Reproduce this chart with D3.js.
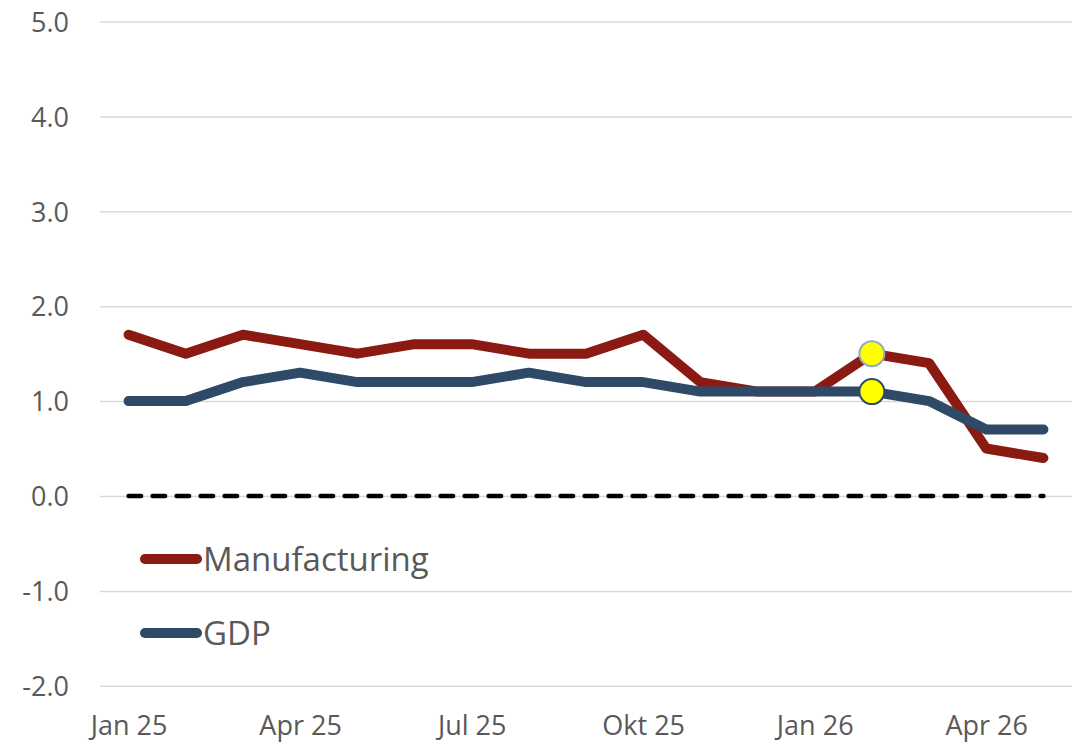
<!DOCTYPE html>
<html>
<head>
<meta charset="utf-8">
<script src="https://cdn.jsdelivr.net/npm/d3@7"></script>
<style>
  html, body { margin: 0; padding: 0; background: #ffffff; }
  svg { display: block; }
  text { font-family: "Open Sans", "Noto Sans", sans-serif; fill: #595959; }
</style>
</head>
<body>
<svg id="chart" width="1083" height="743"></svg>
<script>
// Monthly categories, Jan 25 – May 26
const months = ["Jan 25","Feb 25","Mar 25","Apr 25","May 25","Jun 25","Jul 25","Aug 25","Sep 25",
                "Okt 25","Nov 25","Dec 25","Jan 26","Feb 26","Mar 26","Apr 26","May 26"];
// Only every third month is labelled on the axis
const monthLabels = ["Jan 25","Apr 25","Jul 25","Okt 25","Jan 26","Apr 26"];

const manufacturing = [1.7,1.5,1.7,1.6,1.5,1.6,1.6,1.5,1.5,1.7,1.2,1.1,1.1,1.5,1.4,0.5,0.4];
const gdp           = [1.0,1.0,1.2,1.3,1.2,1.2,1.2,1.3,1.2,1.2,1.1,1.1,1.1,1.1,1.0,0.7,0.7];

const yTicks = [-2,-1,0,1,2,3,4,5];
// Highlighted month on both series
const highlightMonth = "Feb 26";

const seriesNames = ["Manufacturing","GDP"];
const seriesColors = ["#8B1A12","#2E4A66"];
const markerStrokes = ["#8FAAC6","#2E4A66"];

const svg = d3.select("#chart");

const x = d3.scalePoint().domain(months).range([100, 1072]).padding(0.5);
const y = d3.scaleLinear().domain([-2, 5]).range([685.8, 21.5]);

// Horizontal gridlines with one-decimal labels (plain hyphen for negatives)
const yAxis = d3.axisLeft(y).tickValues(yTicks).tickFormat(d => d.toFixed(1))
  .tickSize(-(1072 - 100)).tickPadding(31);
const gy = svg.append("g").attr("transform", "translate(100,0)").call(yAxis);
gy.select(".domain").remove();
gy.selectAll(".tick line").attr("stroke", "#D9D9D9").attr("stroke-width", 1.5);
gy.selectAll(".tick text").attr("font-size", 27).attr("fill", "#595959").attr("dy", "0.36em");

// Category axis labels
const xAxis = d3.axisBottom(x).tickValues(monthLabels).tickSize(0).tickPadding(0);
const gx = svg.append("g").attr("transform", "translate(0,716)").call(xAxis);
gx.select(".domain").remove();
gx.selectAll(".tick text").attr("font-size", 27).attr("fill", "#595959").attr("dy", "0.71em");

// Zero reference line
svg.append("line")
  .attr("x1", x(months[0])).attr("x2", x(months[months.length - 1]))
  .attr("y1", y(0)).attr("y2", y(0))
  .attr("stroke", "#000").attr("stroke-width", 4.5)
  .attr("stroke-linecap", "round")
  .attr("stroke-dasharray", "12.5,11.5");

const line = d3.line().x((d, i) => x(months[i])).y(d => y(d));

const data = [manufacturing, gdp];
data.forEach((vals, k) => {
  svg.append("path")
    .attr("d", line(vals))
    .attr("fill", "none")
    .attr("stroke", seriesColors[k])
    .attr("stroke-width", 10)
    .attr("stroke-linejoin", "round")
    .attr("stroke-linecap", "round");
});

// Highlight markers
const hi = months.indexOf(highlightMonth);
data.forEach((vals, k) => {
  svg.append("circle")
    .attr("cx", x(highlightMonth)).attr("cy", y(vals[hi]))
    .attr("r", 12.5)
    .attr("fill", "#FFFF00")
    .attr("stroke", markerStrokes[k])
    .attr("stroke-width", 2);
});

// Legend
const legend = svg.append("g");
const legendY = [559, 633];
seriesNames.forEach((name, k) => {
  legend.append("line")
    .attr("x1", 145).attr("x2", 197)
    .attr("y1", legendY[k]).attr("y2", legendY[k])
    .attr("stroke", seriesColors[k]).attr("stroke-width", 10)
    .attr("stroke-linecap", "round");
  legend.append("text")
    .attr("x", 203).attr("y", legendY[k])
    .attr("dy", "0.36em")
    .attr("font-size", 33)
    .attr("fill", "#595959")
    .text(name);
});
</script>
</body>
</html>
